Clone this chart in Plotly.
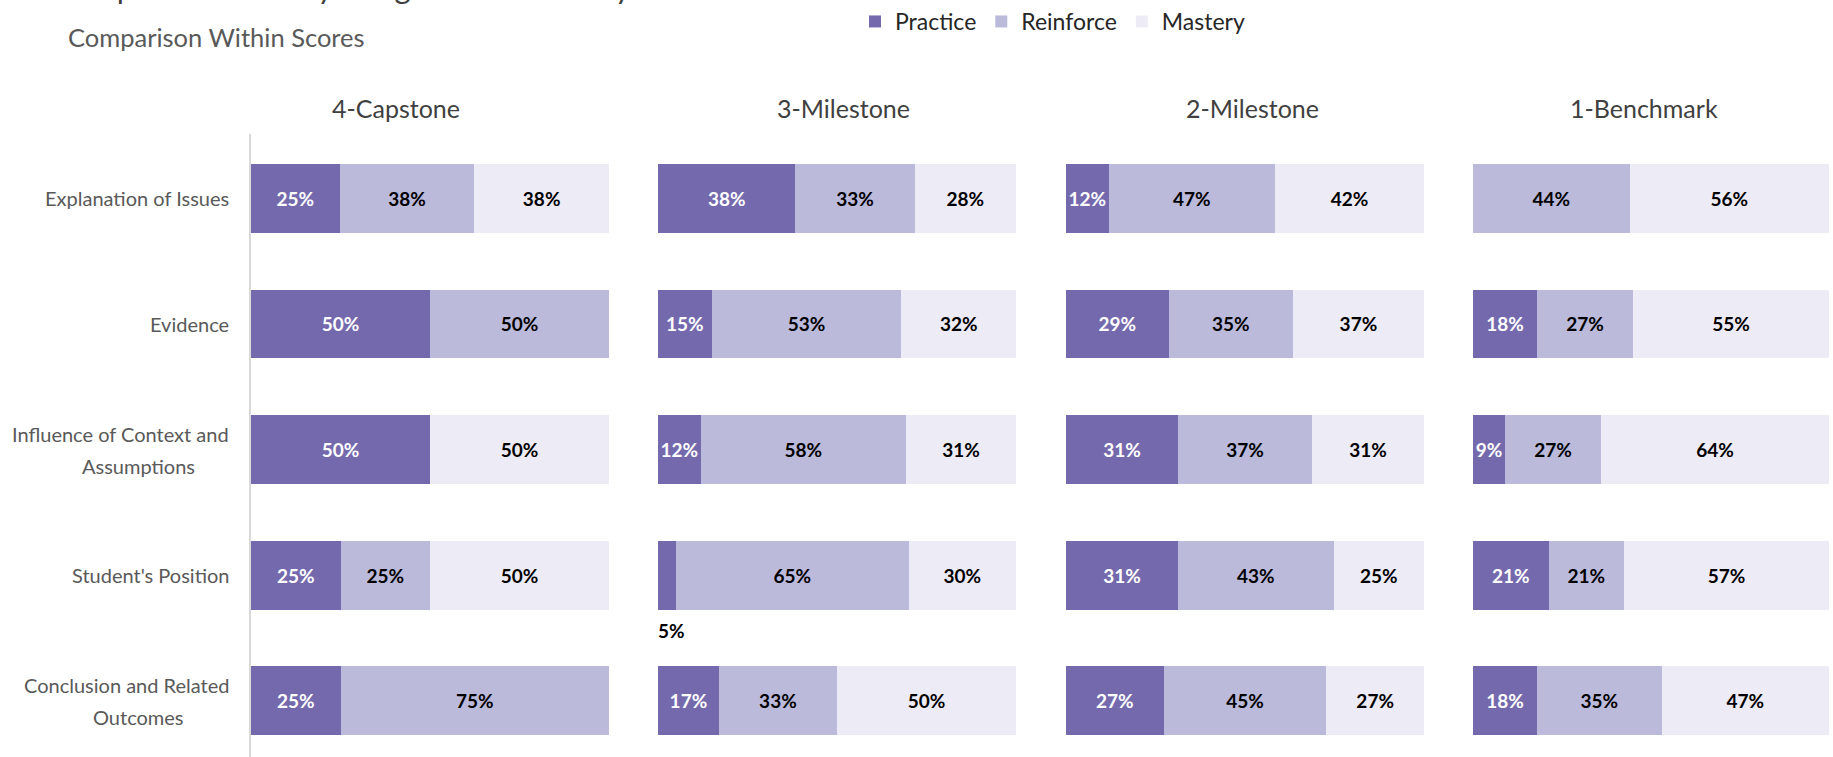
import plotly.graph_objects as go

# ---------------- data ----------------
categories = ["Explanation of Issues", "Evidence", "Influence of Context and Assumptions",
              "Student's Position", "Conclusion and Related Outcomes"]
category_lines = [["Explanation of Issues"], ["Evidence"], ["Influence of Context and", "Assumptions"],
                  ["Student's Position"], ["Conclusion and Related", "Outcomes"]]
panels = ["4-Capstone", "3-Milestone", "2-Milestone", "1-Benchmark"]
series = ["Practice", "Reinforce", "Mastery"]

capstone4_practice = [25, 50, 50, 25, 25]
capstone4_reinforce = [38, 50, 0, 25, 75]
capstone4_mastery = [38, 0, 50, 50, 0]

milestone3_practice = [38, 15, 12, 5, 17]
milestone3_reinforce = [33, 53, 58, 65, 33]
milestone3_mastery = [28, 32, 31, 30, 50]

milestone2_practice = [12, 29, 31, 31, 27]
milestone2_reinforce = [47, 35, 37, 43, 45]
milestone2_mastery = [42, 37, 31, 25, 27]

benchmark1_practice = [0, 18, 9, 21, 18]
benchmark1_reinforce = [44, 27, 27, 21, 35]
benchmark1_mastery = [56, 55, 64, 57, 47]

panel_data = [
    [capstone4_practice, capstone4_reinforce, capstone4_mastery],
    [milestone3_practice, milestone3_reinforce, milestone3_mastery],
    [milestone2_practice, milestone2_reinforce, milestone2_mastery],
    [benchmark1_practice, benchmark1_reinforce, benchmark1_mastery],
]

# ---------------- style ----------------
W, H = 1833, 757
FONT = "Lato, Roboto, sans-serif"
colors = {"Practice": "#7569AE", "Reinforce": "#BBBADB", "Mastery": "#EDEBF5"}
text_colors = {"Practice": "#FFFFFF", "Reinforce": "#000000", "Mastery": "#000000"}

ML, MR, MT, MB = 251, 3, 133, 0
plot_w = W - ML - MR
plot_h = H - MT - MB
panel_px = [(251, 609), (658, 1016), (1066, 1424), (1473, 1829)]
title_px = [396, 843, 1252, 1644]
LABEL_SIZE = 19
CAT_SIZE = 20
LABEL_RIGHT = 231
SECOND_LINE_CENTER = 138
LINE_HALF_GAP = 16


def px_x(p):
    return (p - ML) / plot_w


def px_y(p):
    return 1 + (MT - p) / plot_h


fig = go.Figure()
annotations = []

for i, (pname, vals) in enumerate(zip(panels, panel_data)):
    xa = "x" if i == 0 else f"x{i+1}"
    ya = "y" if i == 0 else f"y{i+1}"
    for s, v in zip(series, vals):
        texts = []
        for k, val in enumerate(v):
            if val == 0:
                texts.append("")
            elif val < 7:
                texts.append("")
                annotations.append(dict(
                    x=val / 2, y=categories[k], xref=xa, yref=ya,
                    text=f"{val}%", showarrow=False, yshift=-55, xshift=5,
                    font=dict(family=FONT, size=LABEL_SIZE, color="#000000", weight="bold"),
                ))
            else:
                texts.append(f"{val}%")
        fig.add_trace(go.Bar(
            x=v, y=categories, orientation="h", name=s,
            marker=dict(color=colors[s], line=dict(width=0)),
            text=texts, textposition="inside", insidetextanchor="middle",
            textangle=0,
            textfont=dict(family=FONT, size=LABEL_SIZE, color=text_colors[s], weight="bold"),
            showlegend=(i == 0), legendgroup=s,
            xaxis=xa, yaxis=ya, hoverinfo="skip",
        ))
    # panel title
    annotations.append(dict(
        x=px_x(title_px[i]), y=px_y(107), xref="paper", yref="paper",
        text=pname, showarrow=False, xanchor="center", yanchor="middle",
        font=dict(family=FONT, size=25, color="#404040"),
    ))

# category labels
for lines, cat in zip(category_lines, categories):
    if len(lines) == 1:
        annotations.append(dict(
            x=px_x(LABEL_RIGHT), y=cat, xref="paper", yref="y", text=lines[0], showarrow=False,
            xanchor="right", yanchor="middle",
            font=dict(family=FONT, size=CAT_SIZE, color="#595959"),
        ))
    else:
        annotations.append(dict(
            x=px_x(LABEL_RIGHT), y=cat, xref="paper", yref="y", text=lines[0], showarrow=False,
            xanchor="right", yanchor="middle", yshift=LINE_HALF_GAP,
            font=dict(family=FONT, size=CAT_SIZE, color="#595959"),
        ))
        annotations.append(dict(
            x=px_x(SECOND_LINE_CENTER), y=cat, xref="paper", yref="y", text=lines[1], showarrow=False,
            xanchor="center", yanchor="middle", yshift=-LINE_HALF_GAP,
            font=dict(family=FONT, size=CAT_SIZE, color="#595959"),
        ))

# title (cut off at top) and subtitle
annotations.append(dict(
    x=px_x(66), y=px_y(-14), xref="paper", yref="paper",
    text="Graph of Results by Assignment Difficulty", showarrow=False,
    xanchor="left", yanchor="middle",
    font=dict(family=FONT, size=31, color="#404040"),
))
annotations.append(dict(
    x=px_x(66), y=px_y(36), xref="paper", yref="paper",
    text="Comparison Within Scores", showarrow=False,
    xanchor="left", yanchor="middle",
    font=dict(family=FONT, size=25.5, color="#595959"),
))

layout = dict(
    width=W, height=H,
    margin=dict(l=ML, r=MR, t=MT, b=MB, pad=0),
    paper_bgcolor="white", plot_bgcolor="white",
    barmode="stack", barnorm="percent", bargap=0.451,
    uniformtext=dict(mode="show", minsize=LABEL_SIZE),
    showlegend=True,
    legend=dict(
        orientation="h", x=px_x(855), xanchor="left", y=px_y(20), yanchor="middle",
        font=dict(family=FONT, size=23, color="#262626"),
        traceorder="normal", itemclick=False, bgcolor="rgba(0,0,0,0)",
    ),
    annotations=annotations,
    font=dict(family=FONT),
)

for i in range(4):
    xk = "xaxis" if i == 0 else f"xaxis{i+1}"
    yk = "yaxis" if i == 0 else f"yaxis{i+1}"
    a, b = panel_px[i]
    layout[xk] = dict(
        domain=[max(0.0, px_x(a)), min(1.0, px_x(b))], range=[0, 100], visible=False,
        anchor="y" if i == 0 else f"y{i+1}", fixedrange=True,
    )
    layout[yk] = dict(
        domain=[0, 1], anchor="x" if i == 0 else f"x{i+1}",
        type="category", categoryorder="array", categoryarray=categories,
        range=[4.449, -0.513], showticklabels=False, ticks="",
        showgrid=False, zeroline=False, fixedrange=True,
        showline=(i == 0), linecolor="#D9D9D9", linewidth=1.5,
    )

fig.update_layout(**layout)

fig.write_html("out.html", config={"displayModeBar": False},
               post_script="document.body.style.margin='0';document.body.style.overflow='hidden';")
